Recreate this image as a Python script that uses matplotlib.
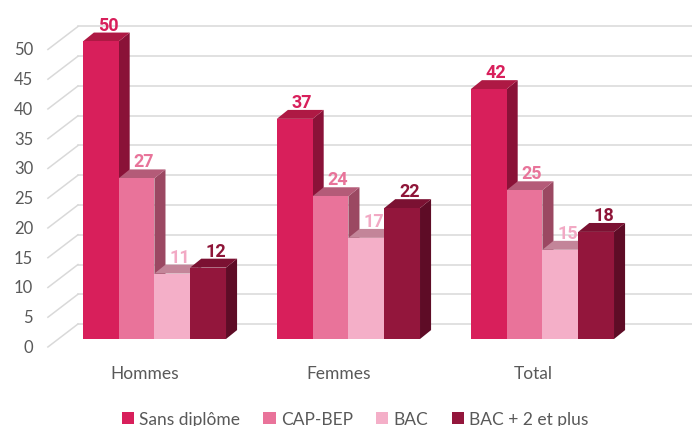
import matplotlib.pyplot as plt
from matplotlib.patches import Polygon, Patch

categories = ['Hommes', 'Femmes', 'Total']
series = ['Sans diplôme', 'CAP-BEP', 'BAC', 'BAC + 2 et plus']
sans_diplome = [50, 37, 42]
cap_bep = [27, 24, 25]
bac = [11, 17, 15]
bac_plus_2 = [12, 22, 18]
values = [sans_diplome, cap_bep, bac, bac_plus_2]
yticks = list(range(0, 55, 5))

# front, side, top face colours per series
front = ['#D81F5B', '#E9739A', '#F4AFC8', '#93163C']
side = ['#8A1238', '#9B4862', '#A87084', '#5E0C26']
top = ['#AE1944', '#B45B78', '#C38599', '#7B1132']
label_col = ['#D81F5B', '#E8749A', '#F2A9C4', '#8E1538']

grey = '#595959'
grid = '#D9D9D9'

w = 0.1845            # bar width in group units
bdx, bdy = 0.057, 1.5  # bar depth offset
wall_x0, wall_x1 = -0.549, -0.394
wall_dy0, wall_dy1 = -1.34, 2.52
xmax = 2.771

fig = plt.figure(figsize=(6.92, 4.27), dpi=100)
ax = fig.add_axes([0, 0, 1, 1])
ax.set_xlim(-0.796, xmax)
ax.set_ylim(-14.62, 57.14)
ax.axis('off')

# back wall grid and floor diagonals
for v in yticks:
    ax.plot([wall_x1, xmax], [v + wall_dy1, v + wall_dy1], color=grid, lw=1.1, zorder=1)
    ax.plot([wall_x0, wall_x1], [v + wall_dy0, v + wall_dy1], color=grid, lw=1.1, zorder=1)
    ax.text(-0.625, v + wall_dy0, str(v), ha='right', va='center',
            fontsize=12, color=grey, family='Lato')

for g in range(len(categories)):
    for i in range(len(series)):
        v = values[i][g]
        xc = g + (i - 1.5) * w
        xl, xr = xc - w / 2, xc + w / 2
        z = 2 + g + i * 0.1
        ax.add_patch(Polygon([(xr, 0), (xr + bdx, bdy), (xr + bdx, v + bdy), (xr, v)],
                             closed=True, facecolor=side[i], edgecolor='none', zorder=z))
        ax.add_patch(Polygon([(xl, v), (xl + bdx, v + bdy), (xr + bdx, v + bdy), (xr, v)],
                             closed=True, facecolor=top[i], edgecolor='none', zorder=z))
        ax.bar(xc, v, width=w, color=front[i], edgecolor='none', zorder=z + 0.01)
        ax.text(xc + bdx / 2 + 0.01, v + bdy + 0.5, str(v), ha='center', va='baseline',
                fontsize=13, fontweight='bold', color=label_col[i],
                family='Roboto', zorder=10)
    ax.text(g - 0.049, -5.7, categories[g], ha='center', va='center',
            fontsize=12.5, color=grey, family='Lato')

handles = [Patch(facecolor=front[i], edgecolor='none', label=series[i]) for i in range(4)]
leg = fig.legend(handles=handles, loc='center', bbox_to_anchor=(0.513, 0.017), ncol=4,
                 frameon=False, handlelength=0.7, handleheight=0.7, handletextpad=0.3,
                 columnspacing=1.35, prop={'family': 'Lato', 'size': 12.5})
for t in leg.get_texts():
    t.set_color(grey)

fig.savefig('out.png', dpi=100)
